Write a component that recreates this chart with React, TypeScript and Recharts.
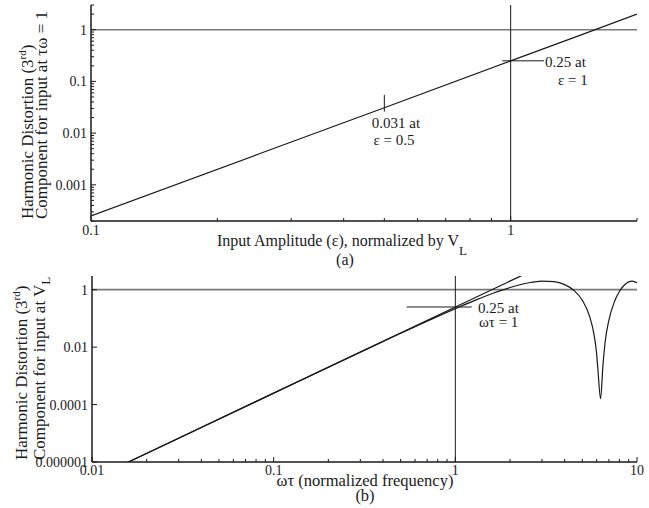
import { LineChart, Line, XAxis, YAxis, ReferenceLine } from 'recharts';

const FONT = "'Liberation Serif', 'DejaVu Serif', serif";
const INK = '#1a1a1a';
const GRID = '#7a7a7a';

// (a) 3rd harmonic component vs normalized input amplitude
const ampEps = [0.1, 0.25, 0.5, 1, 1.5, 2];
const ampHd3 = [0.00025, 0.0039, 0.031, 0.25, 0.84, 2.0];

// (b) 3rd harmonic component vs normalized frequency
const freqAsym = [0.01, 0.1, 1, 2.3, 3];
const freqAsymHd3 = [2.5e-7, 2.5e-4, 0.25, 3.04, 6.75];
const freqCurve = [0.01, 0.03, 0.1, 0.3, 0.5, 0.7, 1, 1.3, 1.6, 2, 2.5, 3, 3.5, 4, 4.5, 5, 5.5, 5.8, 6.0, 6.1, 6.3, 6.5, 6.7, 7.0, 7.5, 8.0, 8.5, 9.0, 9.4, 10];
const freqCurveHd3 = [2.5e-7, 6.75e-6, 2.5e-4, 0.00668, 0.0303, 0.0806, 0.22, 0.443, 0.738, 1.19, 1.71, 1.99, 1.91, 1.5, 0.94, 0.43, 0.111, 0.0274, 0.0056, 0.0015, 0.00016, 0.0025, 0.0177, 0.086, 0.373, 0.867, 1.43, 1.87, 2.0, 1.76];

// ticks
const ampXMajor = [0.1, 1];
const ampXLabels = ['0.1', '1'];
const ampXMinor = [0.2, 0.3, 0.4, 0.5, 0.6, 0.7, 0.8, 0.9, 2];
const ampYMajor = [0.001, 0.01, 0.1, 1];
const ampYLabels = ['0.001', '0.01', '0.1', '1'];
const ampYMinor = [0.0002, 0.0003, 0.0004, 0.0005, 0.0006, 0.0007, 0.0008, 0.0009,
  0.002, 0.003, 0.004, 0.005, 0.006, 0.007, 0.008, 0.009,
  0.02, 0.03, 0.04, 0.05, 0.06, 0.07, 0.08, 0.09,
  0.2, 0.3, 0.4, 0.5, 0.6, 0.7, 0.8, 0.9, 2, 3];
const freqXMajor = [0.01, 0.1, 1, 10];
const freqXLabels = ['0.01', '0.1', '1', '10'];
const freqXMinor = [0.02, 0.03, 0.04, 0.05, 0.06, 0.07, 0.08, 0.09,
  0.2, 0.3, 0.4, 0.5, 0.6, 0.7, 0.8, 0.9,
  2, 3, 4, 5, 6, 7, 8, 9];
const freqYMajor = [0.000001, 0.0001, 0.01, 1];
const freqYLabels = ['0.000001', '0.0001', '0.01', '1'];

const ampData = ampEps.map((x, i) => ({ x, y: ampHd3[i] }));
const asymData = freqAsym.map((x, i) => ({ x, y: freqAsymHd3[i] }));
const curveData = freqCurve.map((x, i) => ({ x, y: freqCurveHd3[i] }));

type Side = 'bottom' | 'top' | 'left' | 'right';

const txt = { fontFamily: FONT };

function makeTick(side: Side, major: number[], labels: string[] | null, labelDy = 14) {
  return (props: any) => {
    const { x, y, payload } = props;
    const v = payload.value;
    const i = major.findIndex((m) => Math.abs(m - v) / m < 1e-6);
    const len = i >= 0 ? 5 : 3;
    let x2 = x, y2 = y;
    if (side === 'bottom') y2 = y - len;
    if (side === 'top') y2 = y + len;
    if (side === 'left') x2 = x + len;
    if (side === 'right') x2 = x - len;
    let label = null;
    if (labels && i >= 0) {
      if (side === 'bottom') {
        label = <text x={x} y={y + labelDy} textAnchor="middle" style={txt} fontSize={14} fill={INK}>{labels[i]}</text>;
      } else if (side === 'left') {
        label = <text x={x - 4} y={y + 5} textAnchor="end" style={txt} fontSize={14} fill={INK}>{labels[i]}</text>;
      }
    }
    return (
      <g>
        <line x1={x} y1={y} x2={x2} y2={y2} stroke={INK} strokeWidth={1} />
        {label}
      </g>
    );
  };
}

const axisLine = { stroke: INK, strokeWidth: 1.5 };
const sorted = (a: number[], b: number[]) => [...a, ...b].sort((p, q) => p - q);

export default function App() {
  const ampXTicks = sorted(ampXMajor, ampXMinor);
  const ampYTicks = sorted(ampYMajor, ampYMinor);
  const freqXTicks = sorted(freqXMajor, freqXMinor);

  return (
    <div style={{ position: 'absolute', left: 0, top: 0, width: 649, height: 508, background: '#fff', fontFamily: FONT }}>
      <div style={{ position: 'absolute', left: 0, top: 0 }}>
        <LineChart width={649} height={260} margin={{ top: 5, right: 12, bottom: 0, left: 0 }}>
          <XAxis xAxisId="b" type="number" dataKey="x" scale="log" domain={[0.1, 2]} allowDataOverflow
            ticks={ampXTicks} interval={0} tickSize={0} tickMargin={0} tickLine={false}
            tick={makeTick('bottom', ampXMajor, ampXLabels, 14)} height={39} axisLine={axisLine} />
          <XAxis xAxisId="t" orientation="top" type="number" scale="log" domain={[0.1, 2]} allowDataOverflow
            ticks={ampXTicks} interval={0} tickSize={0} tickMargin={0} tickLine={false}
            tick={makeTick('top', ampXMajor, null)} height={0} axisLine={axisLine} />
          <YAxis yAxisId="l" type="number" dataKey="y" scale="log" domain={[0.0002, 3]} allowDataOverflow
            ticks={ampYTicks} interval={0} tickSize={0} tickMargin={0} tickLine={false}
            tick={makeTick('left', ampYMajor, ampYLabels)} width={91} axisLine={axisLine} />
          <YAxis yAxisId="r" orientation="right" type="number" scale="log" domain={[0.0002, 3]} allowDataOverflow
            ticks={ampYTicks} interval={0} tickSize={0} tickMargin={0} tickLine={false}
            tick={makeTick('right', ampYMajor, null)} width={0} axisLine={axisLine} />
          <ReferenceLine xAxisId="b" yAxisId="l" y={1} stroke={GRID} strokeWidth={1.5} />
          <ReferenceLine xAxisId="b" yAxisId="l" x={1} stroke={INK} strokeWidth={1} />
          <ReferenceLine xAxisId="b" yAxisId="l" segment={[{ x: 0.5, y: 0.055 }, { x: 0.5, y: 0.026 }]} stroke={INK} />
          <ReferenceLine xAxisId="b" yAxisId="l" segment={[{ x: 0.955, y: 0.25 }, { x: 1.2, y: 0.25 }]} stroke={INK} />
          <Line xAxisId="b" yAxisId="l" data={ampData} dataKey="y" type="linear" stroke={INK} strokeWidth={1.2}
            dot={false} activeDot={false} isAnimationActive={false} />
        </LineChart>
      </div>

      <div style={{ position: 'absolute', left: 0, top: 262 }}>
        <LineChart width={649} height={246} margin={{ top: 14, right: 12, bottom: 0, left: 0 }}>
          <XAxis xAxisId="b" type="number" dataKey="x" scale="log" domain={[0.01, 10]} allowDataOverflow
            ticks={freqXTicks} interval={0} tickSize={0} tickMargin={0} tickLine={false}
            tick={makeTick('bottom', freqXMajor, freqXLabels, 13)} height={46} axisLine={axisLine} />
          <XAxis xAxisId="t" orientation="top" type="number" scale="log" domain={[0.01, 10]} allowDataOverflow
            ticks={freqXTicks} interval={0} tickSize={0} tickMargin={0} tickLine={false}
            tick={makeTick('top', freqXMajor, null)} height={0} axisLine={axisLine} />
          <YAxis yAxisId="l" type="number" dataKey="y" scale="log" domain={[0.000001, 3]} allowDataOverflow
            ticks={freqYMajor} interval={0} tickSize={0} tickMargin={0} tickLine={false}
            tick={makeTick('left', freqYMajor, freqYLabels)} width={92} axisLine={axisLine} />
          <YAxis yAxisId="r" orientation="right" type="number" scale="log" domain={[0.000001, 3]} allowDataOverflow
            ticks={freqYMajor} interval={0} tickSize={0} tickMargin={0} tickLine={false}
            tick={makeTick('right', freqYMajor, null)} width={0} axisLine={axisLine} />
          <ReferenceLine xAxisId="b" yAxisId="l" y={1} stroke={GRID} strokeWidth={1.8} />
          <ReferenceLine xAxisId="b" yAxisId="l" x={1} stroke={INK} strokeWidth={1} />
          <ReferenceLine xAxisId="b" yAxisId="l" segment={[{ x: 0.54, y: 0.25 }, { x: 1.23, y: 0.25 }]} stroke={INK} />
          <Line xAxisId="b" yAxisId="l" data={asymData} dataKey="y" type="linear" stroke={INK} strokeWidth={1.2}
            dot={false} activeDot={false} isAnimationActive={false} />
          <Line xAxisId="b" yAxisId="l" data={curveData} dataKey="y" type="monotone" stroke={INK} strokeWidth={1.2}
            dot={false} activeDot={false} isAnimationActive={false} />
        </LineChart>
      </div>

      <svg width={649} height={508} style={{ position: 'absolute', left: 0, top: 0, pointerEvents: 'none', fontFamily: FONT }}
        fill={INK}>
        {/* panel (a) titles */}
        <text x={33} y={219} fontSize={17} style={txt} transform="rotate(-90 33 219)">
          Harmonic Distortion (3<tspan fontSize={11} dy={-7}>rd</tspan><tspan dy={7}>)</tspan>
        </text>
        <text x={47} y={219} fontSize={17} style={txt} transform="rotate(-90 47 219)">
          Component for input at τω = 1
        </text>
        <text x={217} y={246} fontSize={16} style={txt}>
          Input Amplitude (ε), normalized by V<tspan fontSize={13} dy={9}>L</tspan>
        </text>
        <text x={345} y={265} fontSize={16} style={txt} textAnchor="middle">(a)</text>
        <text x={396} y={128} fontSize={15} style={txt} textAnchor="middle">0.031 at</text>
        <text x={394} y={145} fontSize={15} style={txt} textAnchor="middle">ε = 0.5</text>
        <text x={545} y={67} fontSize={15} style={txt}>0.25 at</text>
        <text x={558} y={85} fontSize={15} style={txt}>ε = 1</text>

        {/* panel (b) titles */}
        <text x={27} y={460} fontSize={17} style={txt} transform="rotate(-90 27 460)">
          Harmonic Distortion (3<tspan fontSize={11} dy={-7}>rd</tspan><tspan dy={7}>)</tspan>
        </text>
        <text x={45} y={460} fontSize={17} style={txt} transform="rotate(-90 45 460)">
          Component for input at V<tspan fontSize={13} dy={5}>L</tspan>
        </text>
        <text x={365} y={486} fontSize={16.5} style={txt} textAnchor="middle">ωτ (normalized frequency)</text>
        <text x={365} y={501} fontSize={16.5} style={txt} textAnchor="middle">(b)</text>
        <text x={478} y={313} fontSize={15} style={txt}>0.25 at</text>
        <text x={479} y={327} fontSize={15} style={txt}>ωτ = 1</text>
      </svg>
    </div>
  );
}
